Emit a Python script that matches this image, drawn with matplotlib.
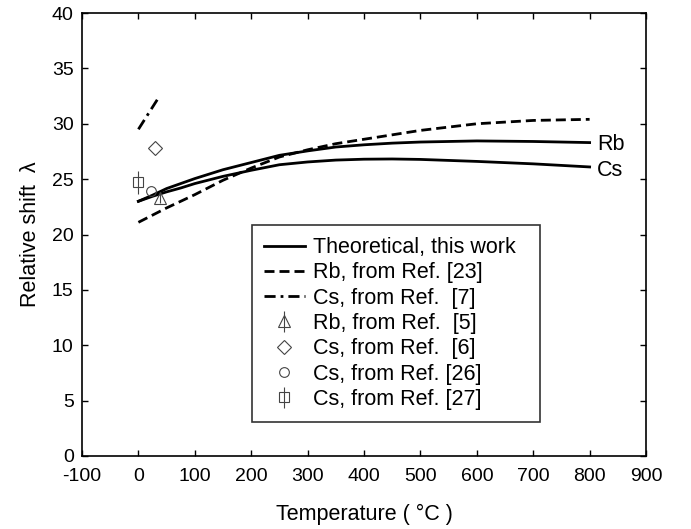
import matplotlib
matplotlib.use("Agg")
import matplotlib.pyplot as plt

plt.rcParams['font.family'] = ['Liberation Sans', 'DejaVu Sans']
plt.rcParams['axes.unicode_minus'] = False

# Theoretical curves (this work)
temp_theory = [0, 25, 50, 75, 100, 150, 200, 250, 300, 350, 400, 450, 500, 600, 700, 800]
rb_theory = [23.0, 23.55, 24.15, 24.6, 25.05, 25.85, 26.5, 27.15, 27.55, 27.9, 28.1, 28.25, 28.35, 28.45, 28.4, 28.3]
cs_theory = [23.0, 23.45, 23.85, 24.2, 24.6, 25.25, 25.8, 26.3, 26.55, 26.72, 26.8, 26.82, 26.78, 26.6, 26.38, 26.1]

# Rb, Ref. [23]
temp_rb23 = [0, 50, 100, 150, 200, 250, 300, 350, 400, 450, 500, 600, 700, 800]
rb23 = [21.1, 22.4, 23.6, 24.9, 26.0, 27.0, 27.65, 28.2, 28.6, 29.0, 29.4, 30.0, 30.3, 30.4]

# Cs, Ref. [7]
temp_cs7 = [0, 35]
cs7 = [29.5, 32.3]

# Point data
rb5_t, rb5_v, rb5_err = [38], [23.3], [0.5]
cs6_t, cs6_v = [30], [27.8]
cs26_t, cs26_v = [22], [23.9]
cs27_t, cs27_v, cs27_err = [0], [24.7], [1.0]

fig = plt.figure(figsize=(6.91, 5.29), dpi=100)
ax = fig.add_axes([0.1187, 0.138, 0.8162, 0.8374])

l1, = ax.plot(temp_theory, rb_theory, color='black', lw=2.0, label='Theoretical, this work  ')
ax.plot(temp_theory, cs_theory, color='black', lw=2.0)
l2, = ax.plot(temp_rb23, rb23, color='black', lw=2.0, ls=(0, (3.6, 1.8)), label='Rb, from Ref. [23]')
l3, = ax.plot(temp_cs7, cs7, color='black', lw=2.0, ls=(0, (4, 1.8, 1, 1.8)), label='Cs, from Ref.  [7]')

mcol = '#444444'
e1 = ax.errorbar(rb5_t, rb5_v, yerr=rb5_err, fmt='^', mfc='none', mec=mcol, ecolor=mcol,
                 ms=8, mew=0.8, elinewidth=0.8, capsize=0, label='Rb, from Ref.  [5]')
e2, = ax.plot(cs6_t, cs6_v, 'D', mfc='none', mec=mcol, ms=7, mew=0.8, label='Cs, from Ref.  [6]')
e3, = ax.plot(cs26_t, cs26_v, 'o', mfc='none', mec=mcol, ms=7, mew=0.8, label='Cs, from Ref. [26]')
e4 = ax.errorbar(cs27_t, cs27_v, yerr=cs27_err, fmt='s', mfc='none', mec=mcol, ecolor=mcol,
                 ms=7, mew=0.8, elinewidth=0.8, capsize=0, label='Cs, from Ref. [27]')

ax.text(813, 28.1, 'Rb', fontsize=15.5, va='center', ha='left')
ax.text(813, 25.8, 'Cs', fontsize=15.5, va='center', ha='left')

ax.set_xlim(-100, 900)
ax.set_ylim(0, 40)
ax.set_xticks(range(-100, 901, 100))
ax.set_yticks(range(0, 41, 5))
ax.tick_params(direction='in', top=True, right=True, length=4, width=1, labelsize=14)
ax.tick_params(axis='x', pad=9)
ax.tick_params(axis='y', pad=6)
for s in ax.spines.values():
    s.set_linewidth(1.2)

ax.set_xlabel('Temperature ( °C )', fontsize=15.5, labelpad=13.5)
ax.set_ylabel('Relative shift  λ', fontsize=15.5, labelpad=8)

leg = ax.legend(handles=[l1, l2, l3, e1, e2, e3, e4], loc='upper left',
                bbox_to_anchor=(0.301, 0.521), fontsize=15.5, frameon=True, fancybox=False,
                edgecolor='black', handlelength=1.9, handletextpad=0.4, labelspacing=0.2,
                borderpad=0.55, borderaxespad=0)
leg.get_frame().set_linewidth(1.2)

fig.savefig('out.png', dpi=100)
